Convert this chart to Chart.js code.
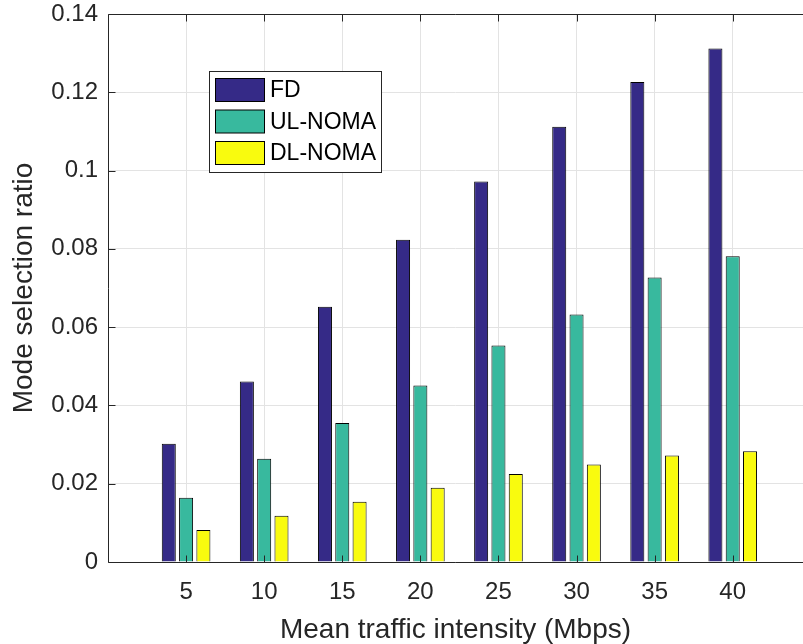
<!DOCTYPE html>
<html>
<head>
<meta charset="utf-8">
<script src="https://cdn.jsdelivr.net/npm/chart.js@4/dist/chart.umd.min.js"></script>
<style>
    html, body { margin: 0; padding: 0; background: #fff; overflow: hidden; }
</style>
</head>
<body>
<canvas id="modeChart" width="803" height="644"></canvas>
<script>
const traffic = [5, 10, 15, 20, 25, 30, 35, 40];
const fdRatio = [0.0302, 0.0461, 0.0652, 0.0823, 0.0972, 0.1112, 0.1226, 0.1312];
const ulNomaRatio = [0.0164, 0.0264, 0.0355, 0.0451, 0.0553, 0.0632, 0.0727, 0.0781];
const dlNomaRatio = [0.0082, 0.0118, 0.0154, 0.0190, 0.0225, 0.0249, 0.0272, 0.0283];
const seriesNames = ['FD', 'UL-NOMA', 'DL-NOMA'];
const yTicks = [0, 0.02, 0.04, 0.06, 0.08, 0.1, 0.12, 0.14];

const axisColor = '#262626';
const fontFamily = '"Liberation Sans", Arial, Helvetica, sans-serif';

const toPoints = values => values.map((v, i) => ({ x: traffic[i], y: v }));

// axes box (the right side is cut off in the original figure),
// inward tick marks and the legend, MATLAB style
const matlabFrame = {
    id: 'matlabFrame',
    afterDatasetsDraw(chart) {
        const { ctx, chartArea: a, scales: { x, y } } = chart;
        const len = 7;
        const left = Math.round(a.left) + 0.5;
        const top = Math.round(a.top) + 0.5;
        const bottom = Math.round(a.bottom) + 0.5;
        ctx.save();
        ctx.strokeStyle = axisColor;
        ctx.lineWidth = 1;
        ctx.beginPath();
        traffic.forEach(t => {
            const px = Math.round(x.getPixelForValue(t)) + 0.5;
            ctx.moveTo(px, bottom);
            ctx.lineTo(px, bottom - len);
            ctx.moveTo(px, top);
            ctx.lineTo(px, top + len);
        });
        yTicks.forEach(v => {
            const py = Math.round(y.getPixelForValue(v)) + 0.5;
            ctx.moveTo(left, py);
            ctx.lineTo(left + len, py);
        });
        ctx.moveTo(a.right, top);
        ctx.lineTo(left, top);
        ctx.lineTo(left, bottom);
        ctx.lineTo(a.right, bottom);
        ctx.stroke();

        // legend
        const bx = 209.5, by = 71.5, bw = 172, bh = 101;
        ctx.fillStyle = '#fff';
        ctx.fillRect(bx, by, bw, bh);
        ctx.strokeRect(bx, by, bw, bh);
        ctx.font = '23px ' + fontFamily;
        ctx.textBaseline = 'middle';
        ctx.textAlign = 'left';
        chart.data.datasets.forEach((ds, i) => {
            const sy = 78.5 + i * 31.5;
            ctx.fillStyle = ds.backgroundColor;
            ctx.fillRect(215.5, sy, 49, 23);
            ctx.strokeStyle = '#000';
            ctx.strokeRect(215.5, sy, 49, 23);
            ctx.fillStyle = '#000';
            ctx.fillText(ds.label, 270, sy + 12.5);
        });
        ctx.restore();
    }
};

new Chart(document.getElementById('modeChart'), {
    type: 'bar',
    data: {
        datasets: [
            { label: seriesNames[0], data: toPoints(fdRatio), backgroundColor: '#352a87' },
            { label: seriesNames[1], data: toPoints(ulNomaRatio), backgroundColor: '#38b99e' },
            { label: seriesNames[2], data: toPoints(dlNomaRatio), backgroundColor: '#f9fb0e' }
        ]
    },
    options: {
        responsive: false,
        animation: false,
        datasets: {
            bar: {
                borderColor: '#000',
                borderWidth: 1,
                categoryPercentage: 0.665,
                barPercentage: 0.81
            }
        },
        layout: { padding: { top: 14, right: 0, left: 0, bottom: 0 } },
        plugins: {
            legend: { display: false },
            tooltip: { enabled: false }
        },
        scales: {
            x: {
                type: 'linear',
                min: 0,
                max: 44.5,
                offset: false,
                afterFit: s => {
                    s.height = 82;
                    s.paddingLeft = 0;
                    s.paddingRight = 0;
                },
                grid: { offset: false, color: '#e3e3e3', drawTicks: false },
                border: { display: false },
                ticks: {
                    stepSize: 5,
                    includeBounds: false,
                    padding: 16,
                    color: axisColor,
                    font: { family: fontFamily, size: 24 },
                    callback: v => traffic.includes(v) ? v : ''
                },
                title: {
                    display: true,
                    text: 'Mean traffic intensity (Mbps)',
                    color: axisColor,
                    font: { family: fontFamily, size: 28, lineHeight: 1 },
                    padding: { top: 0, bottom: 0 }
                }
            },
            y: {
                min: 0,
                max: 0.14,
                afterFit: s => {
                    s.width = 108;
                    s.paddingTop = 0;
                    s.paddingBottom = 0;
                },
                grid: { color: '#e3e3e3', drawTicks: false },
                border: { display: false },
                ticks: {
                    stepSize: 0.02,
                    padding: 10,
                    color: axisColor,
                    font: { family: fontFamily, size: 24 },
                    callback: v => +v.toFixed(2)
                },
                title: {
                    display: true,
                    text: 'Mode selection ratio',
                    color: axisColor,
                    font: { family: fontFamily, size: 28, lineHeight: 1 },
                    padding: { top: 10, bottom: 0 }
                }
            }
        }
    },
    plugins: [matlabFrame]
});
</script>
</body>
</html>
